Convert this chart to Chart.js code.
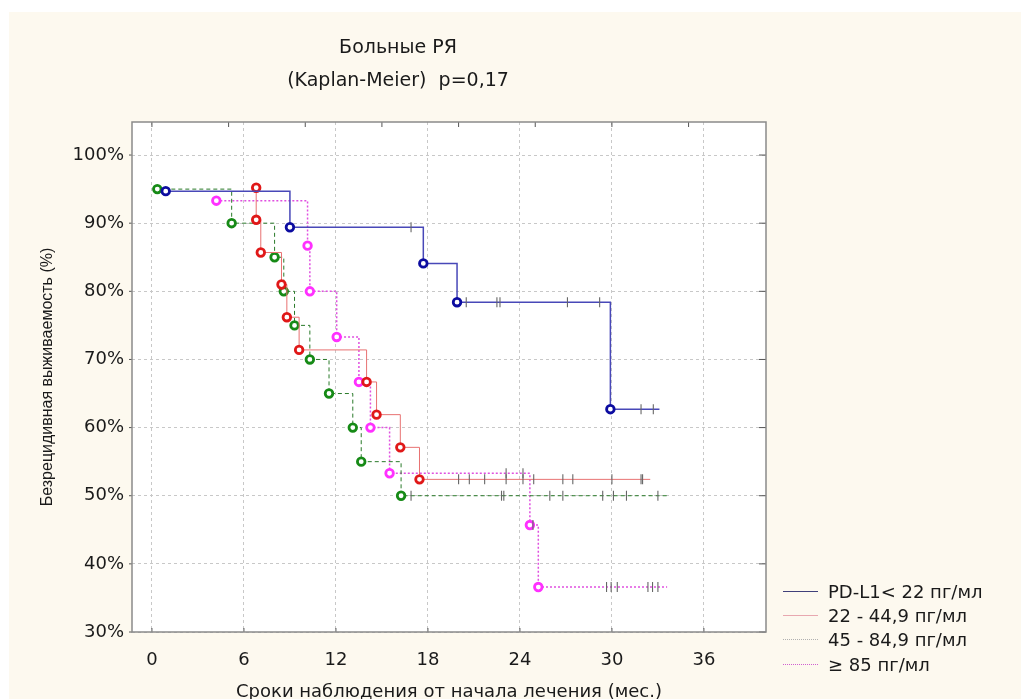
<!DOCTYPE html>
<html lang="ru">
<head>
<meta charset="UTF-8" />
<title>Больные РЯ (Kaplan-Meier)</title>
<script src="https://cdn.jsdelivr.net/npm/chart.js"></script>
<style>
  html, body { margin: 0; padding: 0; background: #fff; }
  .page { position: relative; width: 1021px; height: 699px; overflow: hidden; }
  .paper { position: absolute; left: 9px; top: 12px; right: 0; bottom: 0; background: #fdf9ef; }
  .chart-box { position: absolute; left: 0; top: 0; width: 1021px; height: 699px; }
  .legend { position: absolute; left: 783px; top: 579px; font: 18px "DejaVu Sans", sans-serif; color: #1a1a1a; }
  .legend-row { display: flex; align-items: center; height: 24.3px; white-space: nowrap; }
  .legend-line { width: 35px; height: 0; margin-right: 10px; }
</style>
</head>
<body>
<div class="page">
  <div class="paper"></div>
  <div class="chart-box"><canvas id="kmChart"></canvas></div>
  <!-- легенда -->
  <div class="legend">
    <div class="legend-row"><span class="legend-line" style="border-top: 1.5px solid #40407a"></span>PD-L1&lt; 22 пг/мл</div>
    <div class="legend-row"><span class="legend-line" style="border-top: 1px solid #e8a8b0"></span>22 - 44,9 пг/мл</div>
    <div class="legend-row"><span class="legend-line" style="border-top: 1px dotted #b0b0b0"></span>45 - 84,9 пг/мл</div>
    <div class="legend-row"><span class="legend-line" style="border-top: 1px dotted #d060d0"></span>≥ 85 пг/мл</div>
  </div>
</div>

<script>
  // Оси
  const xStep = 6;
  const topTicks = [0, 5, 10, 15, 20, 25, 30, 35];
  const yStep = 10;

  // PD-L1 < 22 пг/мл
  const g1Times = [0.9, 9.0, 17.7, 19.9, 29.9];
  const g1Surv = [94.7, 89.4, 84.1, 78.4, 62.7];
  const g1Cens = [16.9, 20.5, 22.5, 22.7, 27.1, 29.2, 31.9, 32.7];

  // 22 - 44,9 пг/мл
  const g2Times = [6.8, 6.8, 7.1, 8.45, 8.8, 9.6, 14.0, 14.65, 16.2, 17.45];
  const g2Surv = [95.2, 90.5, 85.7, 81.0, 76.2, 71.4, 66.7, 61.9, 57.1, 52.4];
  const g2Cens = [20.0, 20.7, 21.7, 23.1, 24.2, 24.9, 26.8, 27.45, 30.0, 31.9, 32.0];

  // 45 - 84,9 пг/мл
  const g3Times = [0.35, 5.2, 8.0, 8.6, 9.3, 10.3, 11.55, 13.1, 13.65, 16.25];
  const g3Surv = [95, 90, 85, 80, 75, 70, 65, 60, 55, 50];
  const g3Cens = [16.9, 22.8, 22.95, 25.95, 26.8, 29.4, 30.1, 30.95, 33.0];

  // >= 85 пг/мл
  const g4Times = [4.2, 10.15, 10.3, 12.05, 13.5, 14.25, 15.5, 24.65, 25.2];
  const g4Surv = [93.3, 86.7, 80.0, 73.3, 66.7, 60.0, 53.3, 45.7, 36.6];
  const g4Cens = [23.1, 24.2, 24.85, 29.65, 29.95, 30.35, 32.35, 32.65, 33.0];

  const groupNames = ["PD-L1< 22 пг/мл", "22 - 44,9 пг/мл", "45 - 84,9 пг/мл", "≥ 85 пг/мл"];
  const endTimes = [33.1, 32.5, 33.6, 33.6];

  function survAt(t, times, surv) {
    let s = surv[0];
    times.forEach((tt, i) => { if (tt <= t) s = surv[i]; });
    return s;
  }

  function curve(label, times, surv, end, line, mark, dash, width) {
    const pts = times.map((t, i) => ({ x: t, y: surv[i] }));
    pts.push({ x: end, y: surv[surv.length - 1] });
    return {
      label: label,
      data: pts,
      stepped: "before",
      borderColor: line,
      borderWidth: width,
      borderDash: dash,
      fill: false,
      pointRadius: (c) => (c.dataIndex < times.length ? 3.8 : 0),
      pointHoverRadius: 0,
      pointBorderColor: mark,
      pointBackgroundColor: "#fff",
      pointBorderWidth: 2.8,
      order: 2,
    };
  }

  function censored(label, times, surv, cens) {
    return {
      label: label + " (цензур.)",
      data: cens.map((t) => ({ x: t, y: survAt(t, times, surv) })),
      showLine: false,
      pointStyle: "line",
      rotation: 90,
      pointRadius: 5,
      pointHoverRadius: 0,
      pointBorderColor: "#666",
      pointBorderWidth: 1.1,
      order: 1,
    };
  }

  // Рамка, белое поле и внутренние засечки
  const framePlugin = {
    id: "frame",
    beforeDraw(chart) {
      const { ctx, chartArea: a } = chart;
      ctx.save();
      ctx.fillStyle = "#fff";
      ctx.fillRect(a.left, a.top, a.width, a.height);
      ctx.restore();
    },
    afterDraw(chart) {
      const { ctx, chartArea: a, scales } = chart;
      const x = scales.x, y = scales.y;
      ctx.save();
      ctx.strokeStyle = "#555";
      ctx.lineWidth = 1;
      ctx.beginPath();
      x.ticks.forEach((t) => {
        const px = x.getPixelForValue(t.value);
        ctx.moveTo(px, a.bottom);
        ctx.lineTo(px, a.bottom - 4);
      });
      topTicks.forEach((v) => {
        const px = x.getPixelForValue(v);
        ctx.moveTo(px, a.top);
        ctx.lineTo(px, a.top + 5);
      });
      y.ticks.forEach((t) => {
        const py = y.getPixelForValue(t.value);
        ctx.moveTo(a.left, py);
        ctx.lineTo(a.left - 3, py);
        ctx.moveTo(a.right, py);
        ctx.lineTo(a.right - 7, py);
      });
      ctx.stroke();
      ctx.strokeStyle = "#8a8a8a";
      ctx.lineWidth = 1.5;
      ctx.strokeRect(a.left, a.top, a.width, a.height);
      ctx.restore();
    },
  };

  const tickFont = { family: "DejaVu Sans", size: 18 };

  new Chart(document.getElementById("kmChart"), {
    type: "line",
    data: {
      datasets: [
        curve(groupNames[0], g1Times, g1Surv, endTimes[0], "#4848b8", "#0c0ca0", [], 1.5),
        curve(groupNames[1], g2Times, g2Surv, endTimes[1], "#e87272", "#e01818", [], 1),
        curve(groupNames[2], g3Times, g3Surv, endTimes[2], "#2a7a2a", "#168a16", [4, 3], 1),
        curve(groupNames[3], g4Times, g4Surv, endTimes[3], "#e050e0", "#ff30ff", [2, 2], 1.5),
        censored(groupNames[0], g1Times, g1Surv, g1Cens),
        censored(groupNames[1], g2Times, g2Surv, g2Cens),
        censored(groupNames[2], g3Times, g3Surv, g3Cens),
        censored(groupNames[3], g4Times, g4Surv, g4Cens),
      ],
    },
    options: {
      responsive: true,
      maintainAspectRatio: false,
      animation: false,
      layout: { padding: { left: 30, right: 255, top: 0, bottom: 0 } },
      plugins: {
        legend: { display: false },
        tooltip: { enabled: false },
        title: {
          display: true,
          text: ["Больные РЯ", "(Kaplan-Meier)  p=0,17"],
          color: "#1a1a1a",
          font: { family: "DejaVu Sans", size: 19, weight: "normal", lineHeight: "33px" },
          padding: { top: 31.5, bottom: 24.5 },
        },
      },
      scales: {
        x: {
          type: "linear",
          min: -1.3,
          max: 40.05,
          ticks: { stepSize: xStep, includeBounds: false, padding: 18, color: "#1a1a1a", font: tickFont },
          grid: { color: "#c8c8c8", drawTicks: false },
          border: { display: false, dash: [3, 3] },
          title: {
            display: true,
            text: "Сроки наблюдения от начала лечения (мес.)",
            color: "#1a1a1a",
            font: { family: "DejaVu Sans", size: 18 },
            padding: { top: 0, bottom: -4 },
          },
          afterFit: (s) => { s.height = 67; },
        },
        y: {
          min: 30,
          max: 104.85,
          ticks: { stepSize: yStep, includeBounds: false, padding: 8, color: "#1a1a1a", font: tickFont, callback: (v) => v + "%" },
          grid: { color: "#c8c8c8", drawTicks: false },
          border: { display: false, dash: [3, 3] },
          title: {
            display: true,
            text: "Безрецидивная выживаемость (%)",
            color: "#1a1a1a",
            font: { family: "Liberation Sans", size: 16 },
            padding: { top: 8, bottom: 0 },
          },
          afterFit: (s) => { s.width = 102; },
        },
      },
    },
    plugins: [framePlugin],
  });
</script>
</body>
</html>
